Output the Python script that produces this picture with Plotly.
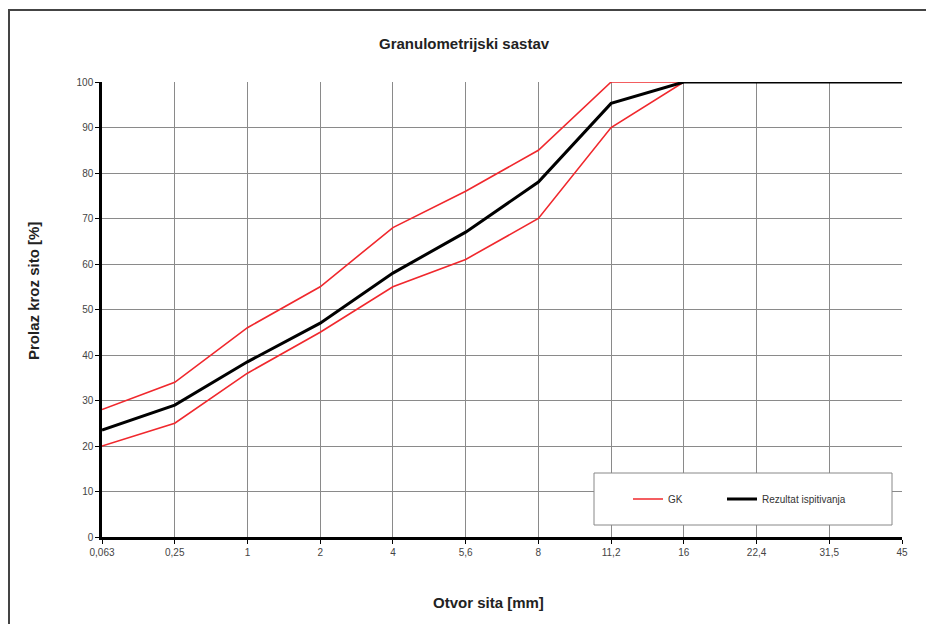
import plotly.graph_objects as go

sieves = ["0,063", "0,25", "1", "2", "4", "5,6", "8", "11,2", "16", "22,4", "31,5", "45"]
gk_upper = [28, 34, 46, 55, 68, 76, 85, 100, 100, None, None, None]
gk_lower = [20, 25, 36, 45, 55, 61, 70, 90, 100, None, None, None]
result = [23.5, 29, 38.5, 47, 58, 67, 78, 95.3, 100, 100, 100, 100]
y_ticks = list(range(0, 101, 10))

# page body has an 8px margin; work in window pixel coordinates
OFF = 8
W, H = 934 - 2 * OFF, 632 - 2 * OFF
PL, PR, PT, PB = 102, 902, 82, 537  # plot area in window px
L, T = PL - OFF, PT - OFF
R = W - (PR - OFF)
B = H - (PB - OFF)
pw, ph = W - L - R, H - T - B

def px_x(x):
    return (x - OFF - L) / pw

def px_y(y):
    return (H - B - (y - OFF)) / ph

fig = go.Figure()
fig.add_trace(go.Scatter(x=sieves, y=gk_upper, mode="lines", name="GK",
                         line=dict(color="#f0282d", width=1.6), legendgroup="gk",
                         legend="legend"))
fig.add_trace(go.Scatter(x=sieves, y=gk_lower, mode="lines", name="GK",
                         line=dict(color="#f0282d", width=1.6), legendgroup="gk",
                         showlegend=False, legend="legend"))
fig.add_trace(go.Scatter(x=sieves, y=result, mode="lines", name="Rezultat ispitivanja",
                         line=dict(color="#000000", width=3), legend="legend2"))

leg_common = dict(orientation="h", xanchor="left", yanchor="middle",
                  bgcolor="rgba(0,0,0,0)", borderwidth=0,
                  font=dict(size=10, color="#333"), itemwidth=30)

fig.update_layout(
    width=W, height=H,
    margin=dict(l=L, r=R, t=T, b=B),
    paper_bgcolor="white", plot_bgcolor="white",
    font=dict(family="Liberation Sans, Arial, sans-serif", color="#222"),
    showlegend=True,
    legend=dict(x=px_x(628), y=px_y(499), **leg_common),
    legend2=dict(x=px_x(722), y=px_y(499), **leg_common),
    annotations=[
        dict(text="<b>Granulometrijski sastav</b>", x=px_x(464), y=px_y(43),
             xref="paper", yref="paper", showarrow=False,
             font=dict(size=15, color="#222"), xanchor="center", yanchor="middle"),
        dict(text="<b>Otvor sita [mm]</b>", x=px_x(488), y=px_y(602),
             xref="paper", yref="paper", showarrow=False,
             font=dict(size=15, color="#222"), xanchor="center", yanchor="middle"),
        dict(text="<b>Prolaz kroz sito [%]</b>", x=px_x(33), y=px_y(291),
             xref="paper", yref="paper", showarrow=False, textangle=-90,
             font=dict(size=15, color="#222"), xanchor="center", yanchor="middle"),
    ],
    shapes=[
        dict(type="rect", xref="paper", yref="paper",
             x0=px_x(594), x1=px_x(892), y0=px_y(525), y1=px_y(473),
             line=dict(color="#888", width=1), fillcolor="white", layer="above"),
        dict(type="line", xref="paper", yref="paper",
             x0=px_x(8), x1=px_x(940), y0=px_y(10), y1=px_y(10),
             line=dict(color="#444", width=2)),
        dict(type="line", xref="paper", yref="paper",
             x0=px_x(9), x1=px_x(9), y0=px_y(10), y1=px_y(640),
             line=dict(color="#444", width=2)),
    ],
)

fig.update_xaxes(type="category", range=[0, len(sieves) - 1],
                 showgrid=True, gridcolor="#8a8a8a", gridwidth=1,
                 showline=True, linecolor="black", linewidth=2.5,
                 ticks="outside", ticklen=4, tickcolor="black",
                 tickfont=dict(size=10, color="#444"), zeroline=False)
fig.update_yaxes(range=[0, 100], tickvals=y_ticks,
                 showgrid=True, gridcolor="#8a8a8a", gridwidth=1,
                 showline=True, linecolor="black", linewidth=2.5,
                 ticks="outside", ticklen=4, tickcolor="black",
                 tickfont=dict(size=10, color="#444"), zeroline=False)

fig.write_html("out.html")
